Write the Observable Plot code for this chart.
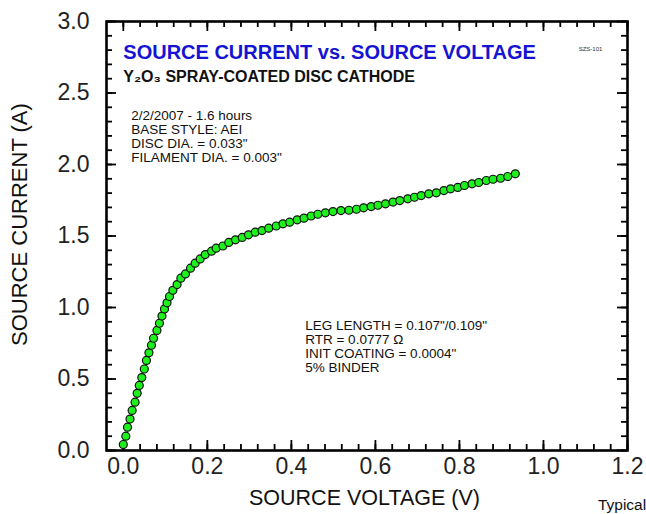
<!DOCTYPE html>
<html><head><meta charset="utf-8">
<script src="https://cdn.jsdelivr.net/npm/d3@7"></script>
<script src="https://cdn.jsdelivr.net/npm/@observablehq/plot@0.6"></script>
<style>body{margin:0;background:#fff}</style>
</head><body><div id="chart"></div>
<script>
const voltage = [0.000,0.006,0.010,0.016,0.021,0.028,0.033,0.038,0.044,0.050,0.055,0.061,0.067,0.072,0.080,0.086,0.092,0.098,0.104,0.110,0.118,0.128,0.137,0.148,0.160,0.171,0.183,0.195,0.210,0.221,0.237,0.251,0.267,0.283,0.298,0.314,0.330,0.346,0.364,0.380,0.396,0.414,0.430,0.447,0.463,0.481,0.499,0.518,0.537,0.555,0.572,0.590,0.606,0.624,0.642,0.658,0.677,0.693,0.709,0.727,0.745,0.763,0.779,0.796,0.812,0.830,0.846,0.864,0.880,0.898,0.915,0.933];
const current = [0.042,0.100,0.163,0.220,0.280,0.338,0.400,0.455,0.510,0.570,0.630,0.683,0.736,0.785,0.840,0.890,0.940,0.990,1.033,1.077,1.120,1.160,1.205,1.235,1.275,1.310,1.340,1.370,1.394,1.415,1.430,1.455,1.473,1.490,1.508,1.527,1.538,1.555,1.570,1.585,1.597,1.613,1.625,1.640,1.652,1.662,1.671,1.678,1.680,1.687,1.697,1.706,1.715,1.725,1.737,1.748,1.760,1.771,1.783,1.795,1.802,1.818,1.830,1.840,1.853,1.865,1.874,1.888,1.897,1.904,1.916,1.935];
const xTickLabels = [0, 0.2, 0.4, 0.6, 0.8, 1.0, 1.2];
const yTickLabels = [0, 0.5, 1.0, 1.5, 2.0, 2.5, 3.0];
const xMinor = d3.range(0, 31).map(i => +(i * 0.04).toFixed(2));
const yMinor = d3.range(0, 31).map(i => +(i * 0.1).toFixed(1));
const title = "SOURCE CURRENT vs. SOURCE VOLTAGE";
const subtitle = "Y\u2082O\u2083 SPRAY-COATED DISC CATHODE";
const codeLabel = "SZS-101";
const notes1 = ["2/2/2007 - 1.6 hours", "BASE STYLE: AEI", "DISC DIA. = 0.033\"", "FILAMENT DIA. = 0.003\""];
const notes2 = ["LEG LENGTH = 0.107\"/0.109\"", "RTR = 0.0777 \u03A9", "INIT COATING = 0.0004\"", "5% BINDER"];
const xLabel = "SOURCE VOLTAGE (V)";
const yLabel = "SOURCE CURRENT (A)";
const footnote = "Typical";

const data = voltage.map((v, i) => ({v, c: current[i]}));
const fmt = d3.format(".1f");
const W = 646, H = 514, ML = 106, MR = 19, MT = 21, MB = 64;
const FW = W - ML - MR, FH = H - MT - MB;
const xDom = [-0.04, 1.2], yDom = [0, 3];
const xPx = (xDom[1] - xDom[0]) / FW, yPx = (yDom[1] - yDom[0]) / FH; // data units per pixel
const minorLen = 6, majorLen = 10;
const xTickRows = (vals, len) => vals.flatMap(v => [
  {x: v, y1: yDom[0], y2: yDom[0] + len * yPx},
  {x: v, y1: yDom[1], y2: yDom[1] - len * yPx}]);
const yTickRows = (vals, len) => vals.flatMap(v => [
  {y: v, x1: xDom[0], x2: xDom[0] + len * xPx},
  {y: v, x1: xDom[1], x2: xDom[1] - len * xPx}]);
const tk = {stroke: "#000", strokeWidth: 1.8};

const chart = Plot.plot({
  width: W, height: H,
  marginLeft: ML, marginRight: MR, marginTop: MT, marginBottom: MB,
  style: {fontFamily: "'Liberation Sans', Arial, sans-serif"},
  x: {domain: xDom},
  y: {domain: yDom},
  marks: [
    Plot.frame({fill: "none", stroke: "#000", strokeWidth: 2.6}),
    Plot.ruleX(xTickRows(xMinor, minorLen), {x: "x", y1: "y1", y2: "y2", ...tk}),
    Plot.ruleX(xTickRows(xTickLabels, majorLen), {x: "x", y1: "y1", y2: "y2", ...tk}),
    Plot.ruleY(yTickRows(yMinor, minorLen), {y: "y", x1: "x1", x2: "x2", ...tk}),
    Plot.ruleY(yTickRows(yTickLabels, majorLen), {y: "y", x1: "x1", x2: "x2", ...tk}),
    Plot.axisX(xTickLabels, {anchor: "bottom", tickSize: 0, tickPadding: 7, tickFormat: fmt, fontSize: 23, fill: "#222", label: null}),
    Plot.axisY(yTickLabels, {anchor: "left", tickSize: 0, tickPadding: 17, tickFormat: fmt, fontSize: 23, fill: "#222", label: null}),
    Plot.dot(data, {x: "v", y: "c", r: 4, fill: "#1ef01e", stroke: "#111", strokeWidth: 1.2}),
    Plot.text([title], {x: 0.0, y: 2.78, text: d => d, textAnchor: "start", fontSize: 20, fontWeight: "bold", fill: "#1414d2"}),
    Plot.text([subtitle], {x: 0.0, y: 2.61, text: d => d, textAnchor: "start", fontSize: 16, fontWeight: "bold", fill: "#111"}),
    Plot.text([codeLabel], {x: 1.112, y: 2.81, text: d => d, fontSize: 6, fill: "#333"}),
    Plot.text([notes1.join("\n")], {x: 0.019, y: 2.196, text: d => d, textAnchor: "start", fontSize: 13.5, lineHeight: 1.04, fill: "#111", letterSpacing: "-0.1px"}),
    Plot.text([notes2.join("\n")], {x: 0.433, y: 0.727, text: d => d, textAnchor: "start", fontSize: 13.5, lineHeight: 1.04, fill: "#111"}),
    Plot.text([xLabel], {x: 0.574, y: -0.335, text: d => d, fontSize: 21.5, fill: "#111"}),
    Plot.text([yLabel], {x: -0.245, y: 1.58, text: d => d, fontSize: 22, rotate: -90, fill: "#111"}),
    Plot.text([footnote], {x: 1.187, y: -0.378, text: d => d, fontSize: 15.5, fill: "#111"})
  ]
});
document.getElementById("chart").appendChild(chart);
</script>
</body></html>
